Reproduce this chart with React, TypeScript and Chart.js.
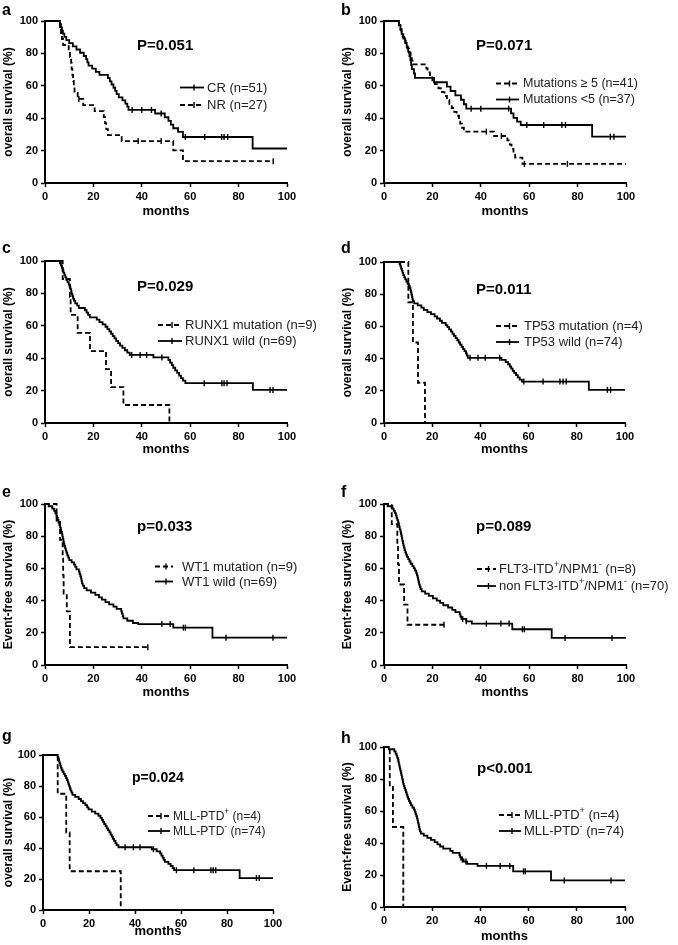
import React, { useEffect, useRef } from "react";
import { Chart, registerables } from "chart.js";
Chart.register(...registerables);

const FONT = '"Liberation Sans", Arial, Helvetica, sans-serif';

// ---------- DATA (months, survival %) ----------
// a
const aCrT = [0, 6.2, 6.6, 7, 7.4, 8, 8.8, 10, 11.5, 13, 14.5, 16, 17, 17.5, 18, 19.5, 21, 22.5, 26, 26.8, 27.5, 28.3, 29, 29.6, 30.5, 32, 33.2, 34, 34.5, 45.5, 49.5, 51, 52, 53, 55, 57, 85.8, 100];
const aCrS = [100, 98, 96.1, 94.1, 92.2, 90.2, 88.2, 86.3, 84.3, 82.4, 80.4, 78.4, 76.5, 74.5, 72.5, 70.6, 68.6, 66.7, 64.7, 62.7, 60.8, 58.8, 56.9, 54.9, 52.9, 51, 49, 47.1, 45.1, 42.9, 40.6, 38.3, 36, 33.8, 31.5, 28.4, 21.3, 21.3];
const aCrC = [36, 40, 44, 48, 58, 66, 73, 74, 75.5];
const aNrT = [0, 6.2, 6.6, 7, 7.5, 9.8, 10.3, 10.8, 11, 11.3, 11.6, 11.9, 12.2, 13.5, 15.8, 20.5, 24.3, 24.8, 25.3, 26, 31.7, 53, 57, 94.3];
const aNrS = [100, 96.3, 92.6, 88.9, 85.2, 81.5, 77.8, 74.1, 70.4, 66.7, 63, 59.3, 55.6, 51.9, 48.1, 44.4, 40.7, 37, 33.3, 29.6, 25.9, 20.2, 13.5, 13.5];
const aNrC = [14, 38.5, 48, 94.3];
// b
const bHiT = [0, 6.2, 6.7, 7.2, 7.7, 8.3, 9, 9.7, 10.3, 11, 11.5, 12.2, 17.5, 18, 19, 20, 21, 22.5, 24, 25, 26, 27, 28, 29, 30, 31, 31.5, 32.3, 33, 45.5, 51, 52, 52.7, 53.5, 54.2, 57.2, 100];
const bHiS = [100, 97.6, 95.1, 92.7, 90.2, 87.8, 85.4, 82.9, 80.5, 78, 75.6, 73.2, 70.7, 68.3, 65.9, 63.4, 61, 58.5, 56.1, 53.7, 51.2, 48.8, 46.3, 43.9, 41.5, 39, 36.6, 34.1, 31.7, 29, 26.3, 23.7, 21.1, 18.4, 15.7, 11.8, 11.8];
const bHiC = [42.3, 48.5, 58, 75.8];
const bLoT = [0, 6.2, 6.8, 7.3, 8, 8.7, 9.4, 10, 10.5, 10.9, 11.2, 11.5, 12.4, 12.8, 20.7, 26, 27.5, 29.5, 31.8, 33, 34, 52.5, 53.5, 55, 56.5, 86, 100];
const bLoS = [100, 97.3, 94.6, 91.9, 89.2, 86.5, 83.8, 81.1, 78.4, 75.7, 73, 70.3, 67.6, 64.9, 62.2, 59.5, 56.8, 54.1, 51.4, 48.6, 45.9, 43, 40.2, 37.9, 35.8, 28.6, 28.6];
const bLoC = [36, 40, 51.5, 59, 66, 73.5, 75, 93.5, 95];
// c
const cMutT = [0, 7.3, 10.3, 10.6, 13.5, 18.6, 25.2, 27.3, 32.4, 51.4];
const cMutS = [100, 88.9, 77.8, 66.7, 55.6, 44.4, 33.3, 22.2, 11.1, 0];
const cMutC: number[] = [];
const cWildT = [0, 6.2, 6.6, 7, 7.3, 7.6, 8, 8.4, 8.8, 9.3, 9.8, 10.2, 10.5, 10.8, 11, 11.3, 11.6, 12, 12.5, 13.3, 14, 16.5, 17.2, 17.8, 18.5, 21.4, 22.5, 23.8, 25, 25.8, 26.6, 27.3, 28, 28.7, 29.4, 30.2, 31, 32, 33, 34, 35, 44.8, 51, 51.7, 52.4, 53, 53.8, 54.6, 55.4, 56.2, 57, 58, 85.9, 100];
const cWildS = [100, 98.6, 97.1, 95.7, 94.2, 92.8, 91.3, 89.9, 88.4, 87, 85.5, 84.1, 82.6, 81.2, 79.7, 78.3, 76.8, 75.4, 73.9, 72.5, 71, 69.6, 68.1, 66.7, 65.2, 63.8, 62.3, 60.9, 59.4, 58, 56.5, 55.1, 53.6, 52.2, 50.7, 49.3, 47.8, 46.4, 44.9, 43.5, 42, 40.5, 38.9, 37.3, 35.7, 34.1, 32.5, 30.9, 29.3, 27.7, 26.1, 24.6, 20.4, 20.4];
const cWildC = [35.8, 39.3, 42, 48.3, 65.8, 73.1, 74, 75.2, 93, 94.2];
// d
const dMutT = [0, 10.1, 12, 14.1, 17];
const dMutS = [100, 75, 50, 25, 0];
const dMutC: number[] = [];
const dWildT = [0, 6.5, 6.8, 7.1, 7.4, 7.7, 8, 8.4, 8.8, 9.3, 9.8, 10.3, 10.7, 11, 11.2, 11.4, 11.6, 11.8, 12, 12.5, 14, 15.5, 16.5, 18, 19.5, 21, 22, 23.2, 24, 25.6, 26.3, 27, 27.8, 28.4, 29, 29.7, 30.4, 31, 31.6, 32.2, 32.8, 33.4, 34, 34.4, 34.8, 48.7, 50.5, 51.5, 52.2, 52.8, 53.4, 54, 54.8, 55.5, 56.3, 57.2, 85, 100];
const dWildS = [100, 98.6, 97.3, 95.9, 94.6, 93.2, 91.9, 90.5, 89.2, 87.8, 86.5, 85.1, 83.8, 82.4, 81.1, 79.7, 78.4, 77, 75.7, 74.3, 73, 71.6, 70.3, 68.9, 67.6, 66.2, 64.9, 63.5, 62.2, 60.8, 59.5, 58.1, 56.8, 55.4, 54.1, 52.7, 51.4, 50, 48.6, 47.3, 45.9, 44.6, 43.2, 41.9, 40.5, 39.2, 37.8, 36.5, 35.1, 33.8, 32.4, 31.1, 29.7, 28.4, 27, 25.7, 20.6, 20.6];
const dWildC = [35.7, 39, 42, 48, 58, 66, 73, 74.3, 75.6, 92.7, 94];
// e
const eMutT = [0, 4.8, 6.2, 7.3, 7.5, 7.7, 9, 10.3, 42.5];
const eMutS = [100, 88.9, 77.8, 66.7, 55.6, 44.4, 33.3, 11.1, 11.1];
const eMutC = [42.5];
const eWildT = [0, 1.5, 3, 3.8, 4.3, 4.7, 5, 5.3, 5.6, 5.9, 6.2, 6.5, 6.7, 7, 7.2, 7.4, 7.6, 7.8, 8, 8.3, 8.6, 8.9, 9.2, 9.6, 10, 11, 12, 12.5, 13, 14, 14.3, 14.6, 14.9, 15.1, 15.3, 15.6, 16.2, 17.2, 19, 20.8, 22.3, 23.5, 25, 26.5, 28.3, 29.6, 31.5, 31.8, 32.1, 32.4, 34, 36.3, 38.5, 53, 69.2, 100];
const eWildS = [100, 98.6, 97.1, 95.7, 94.2, 92.8, 91.3, 89.9, 88.4, 87, 85.5, 84.1, 82.6, 81.2, 79.7, 78.3, 76.8, 75.4, 73.9, 72.5, 71, 69.6, 68.1, 66.7, 65.2, 63.8, 62.3, 60.9, 59.4, 58, 56.5, 55.1, 53.6, 52.2, 50.7, 49.3, 47.8, 46.4, 44.9, 43.5, 42, 40.6, 39.1, 37.7, 36.2, 34.8, 33.3, 31.9, 30.4, 29, 27.5, 26.1, 25.4, 23.2, 17, 17];
const eWildC = [48.3, 51.7, 57.2, 58, 74.8, 94.2];
// f
const fPosT = [0, 3.2, 5.5, 5.8, 6.2, 8.3, 9.7, 24.8];
const fPosS = [100, 87.5, 75, 62.5, 50, 37.5, 25, 25];
const fPosC = [24.8];
const fNegT = [0, 1.5, 3.5, 4, 4.5, 4.9, 5.2, 5.5, 5.8, 6.1, 6.3, 6.5, 6.8, 7, 7.2, 7.4, 7.6, 7.8, 8, 8.2, 8.5, 8.8, 9.1, 9.5, 10, 10.5, 11, 11.7, 12.3, 12.8, 13.3, 13.6, 13.9, 14.1, 14.3, 14.5, 14.8, 15.1, 15.6, 17, 18.5, 20.2, 21.8, 23.2, 24.5, 26.5, 28.2, 29.5, 31.3, 31.6, 32, 34, 36.3, 53, 69.3, 100];
const fNegS = [100, 98.6, 97.1, 95.7, 94.3, 92.9, 91.4, 90, 88.6, 87.1, 85.7, 84.3, 82.9, 81.4, 80, 78.6, 77.1, 75.7, 74.3, 72.9, 71.4, 70, 68.6, 67.1, 65.7, 64.3, 62.9, 61.4, 60, 58.6, 57.1, 55.7, 54.3, 52.9, 51.4, 50, 48.6, 47.1, 45.7, 44.3, 42.9, 41.4, 40, 38.6, 37.1, 35.7, 34.3, 32.9, 31.4, 30, 28.6, 27.1, 25.7, 22.2, 16.8, 16.8];
const fNegC = [32.5, 34, 42.3, 48.3, 51.7, 57.2, 58, 74.8, 94.2];
// g
const gPosT = [0, 6.4, 10.1, 11.6, 33.8];
const gPosS = [100, 75, 50, 25, 0];
const gPosC: number[] = [];
const gNegT = [0, 6.4, 6.7, 7, 7.2, 7.5, 7.8, 8.1, 8.5, 9, 9.5, 10, 10.4, 10.8, 11.1, 11.4, 11.7, 12, 12.4, 12.8, 14, 15.5, 16.5, 17.4, 18.4, 19.2, 19.8, 21.2, 22.7, 24.1, 25, 25.6, 26.1, 26.6, 27.2, 27.7, 28.3, 28.9, 29.4, 29.9, 30.4, 30.9, 31.5, 32, 32.8, 47.3, 49.4, 50.9, 51.5, 52, 52.5, 53, 54.5, 55.5, 56.4, 57, 85.5, 100];
const gNegS = [100, 98.6, 97.3, 95.9, 94.6, 93.2, 91.9, 90.5, 89.2, 87.8, 86.5, 85.1, 83.8, 82.4, 81.1, 79.7, 78.4, 77, 75.7, 74.3, 73, 71.6, 70.3, 68.9, 67.6, 66.2, 64.9, 63.5, 62.2, 60.8, 59.5, 58.1, 56.8, 55.4, 54.1, 52.7, 51.4, 50, 48.6, 47.3, 45.9, 44.6, 43.2, 41.9, 40.5, 39.2, 37.8, 36.5, 35.1, 33.8, 32.4, 31.1, 29.7, 28.4, 27, 25.7, 20.6, 20.6];
const gNegC = [35.7, 39.3, 42.2, 48, 58, 65.6, 73, 74, 75.1, 92.8, 94];
// h
const hPosT = [0, 2.4, 3.7, 8];
const hPosS = [100, 75, 50, 0];
const hPosC: number[] = [];
const hNegT = [0, 2, 4.3, 4.8, 5.2, 5.5, 5.8, 6, 6.2, 6.4, 6.6, 6.8, 7, 7.2, 7.4, 7.6, 7.8, 8, 8.2, 8.5, 8.8, 9.1, 9.4, 9.7, 10, 10.4, 10.8, 11.2, 11.8, 12.4, 12.8, 13.1, 13.4, 13.7, 13.9, 14.1, 14.3, 14.5, 14.7, 14.9, 15.3, 16.5, 18, 19.5, 21, 22.2, 23.3, 24.6, 27.5, 28.5, 31.3, 31.6, 32, 33, 34.5, 38.8, 53.6, 69.3, 100];
const hNegS = [100, 98.6, 97.3, 95.9, 94.6, 93.2, 91.9, 90.5, 89.2, 87.8, 86.5, 85.1, 83.8, 82.4, 81.1, 79.7, 78.4, 77, 75.7, 74.3, 73, 71.6, 70.3, 68.9, 67.6, 66.2, 64.9, 63.5, 62.2, 60.8, 59.5, 58.1, 56.8, 55.4, 54.1, 52.7, 51.4, 50, 48.6, 47.3, 45.9, 44.6, 43.2, 41.9, 40.5, 39.2, 37.8, 36.5, 35.1, 33.8, 32.4, 31.1, 29.7, 28.4, 27, 25.7, 22.3, 16.6, 16.6];
const hNegC = [32.5, 34, 42.5, 48.2, 52.2, 57.9, 58.6, 74.8, 94.2];

// axis ticks
const tickValues = [0, 20, 40, 60, 80, 100];
const xTitle = "months";
const osTitle = "overall survival (%)";
const efsTitle = "Event-free survival (%)";

// ---------- PANELS (layout / style) ----------
type Series = { t: number[]; s: number[]; c: number[]; dashed: boolean; label: string };
type Panel = {
  letter: string; pText: string; yTitle: string; series: Series[];
  left: number; top: number; w: number; h: number;
  L: number; R: number; T: number; B: number;
  lx: number; ly: number; px: number; py: number; pSize: number;
  legX0: number; legX1: number; legTx: number; legY: number; legRow: number; legSize: number;
  xTitleY: number;
};

const PANELS: Panel[] = [
  { letter: "a", pText: "P=0.051", yTitle: osTitle,
    series: [
      { t: aCrT, s: aCrS, c: aCrC, dashed: false, label: "CR (n=51)" },
      { t: aNrT, s: aNrS, c: aNrC, dashed: true, label: "NR (n=27)" }],
    left: 0, top: 0, w: 339, h: 236, L: 45, R: 287, T: 21, B: 183,
    lx: 2, ly: 15, px: 137, py: 50, pSize: 15,
    legX0: 180, legX1: 204, legTx: 207, legY: 87.5, legRow: 17.5, legSize: 13, xTitleY: 211.5 },
  { letter: "b", pText: "P=0.071", yTitle: osTitle,
    series: [
      { t: bHiT, s: bHiS, c: bHiC, dashed: true, label: "Mutations \u2265 5 (n=41)" },
      { t: bLoT, s: bLoS, c: bLoC, dashed: false, label: "Mutations <5 (n=37)" }],
    left: 339, top: 0, w: 339, h: 236, L: 45, R: 287, T: 21, B: 183,
    lx: 2, ly: 15, px: 137, py: 50, pSize: 15,
    legX0: 157, legX1: 180, legTx: 184, legY: 83.5, legRow: 16, legSize: 12.5, xTitleY: 211.5 },
  { letter: "c", pText: "P=0.029", yTitle: osTitle,
    series: [
      { t: cMutT, s: cMutS, c: cMutC, dashed: true, label: "RUNX1 mutation (n=9)" },
      { t: cWildT, s: cWildS, c: cWildC, dashed: false, label: "RUNX1 wild (n=69)" }],
    left: 0, top: 236, w: 339, h: 236, L: 45, R: 287, T: 25, B: 187,
    lx: 2, ly: 17, px: 137, py: 55, pSize: 15,
    legX0: 158, legX1: 182, legTx: 185, legY: 89, legRow: 16, legSize: 13, xTitleY: 213 },
  { letter: "d", pText: "P=0.011", yTitle: osTitle,
    series: [
      { t: dMutT, s: dMutS, c: dMutC, dashed: true, label: "TP53 mutation (n=4)" },
      { t: dWildT, s: dWildS, c: dWildC, dashed: false, label: "TP53 wild (n=74)" }],
    left: 339, top: 236, w: 339, h: 236, L: 45, R: 286, T: 26, B: 187,
    lx: 2, ly: 17, px: 137, py: 58, pSize: 15,
    legX0: 157, legX1: 180, legTx: 185, legY: 90, legRow: 16, legSize: 13, xTitleY: 213 },
  { letter: "e", pText: "p=0.033", yTitle: efsTitle,
    series: [
      { t: eMutT, s: eMutS, c: eMutC, dashed: true, label: "WT1 mutation (n=9)" },
      { t: eWildT, s: eWildS, c: eWildC, dashed: false, label: "WT1 wild (n=69)" }],
    left: 0, top: 472, w: 339, h: 236, L: 45, R: 287, T: 32, B: 193,
    lx: 2, ly: 25, px: 137, py: 59, pSize: 15,
    legX0: 155, legX1: 173, legTx: 182, legY: 94.5, legRow: 15, legSize: 13, xTitleY: 220 },
  { letter: "f", pText: "p=0.089", yTitle: efsTitle,
    series: [
      { t: fPosT, s: fPosS, c: fPosC, dashed: true, label: "FLT3-ITD^+/NPM1^- (n=8)" },
      { t: fNegT, s: fNegS, c: fNegC, dashed: false, label: "non FLT3-ITD^+/NPM1^- (n=70)" }],
    left: 339, top: 472, w: 339, h: 236, L: 45, R: 287, T: 32, B: 193,
    lx: 2, ly: 25, px: 137, py: 59, pSize: 15,
    legX0: 138, legX1: 157, legTx: 160, legY: 97, legRow: 17, legSize: 13, xTitleY: 220 },
  { letter: "g", pText: "p=0.024", yTitle: osTitle,
    series: [
      { t: gPosT, s: gPosS, c: gPosC, dashed: true, label: "MLL-PTD^+ (n=4)" },
      { t: gNegT, s: gNegS, c: gNegC, dashed: false, label: "MLL-PTD^- (n=74)" }],
    left: 0, top: 708, w: 339, h: 237, L: 43, R: 273, T: 47, B: 202,
    lx: 2, ly: 33, px: 132, py: 74, pSize: 14,
    legX0: 148, legX1: 170, legTx: 173, legY: 108, legRow: 15, legSize: 12, xTitleY: 223 },
  { letter: "h", pText: "p<0.001", yTitle: efsTitle,
    series: [
      { t: hPosT, s: hPosS, c: hPosC, dashed: true, label: "MLL-PTD^+ (n=4)" },
      { t: hNegT, s: hNegS, c: hNegC, dashed: false, label: "MLL-PTD^- (n=74)" }],
    left: 339, top: 708, w: 339, h: 237, L: 45, R: 286, T: 39, B: 199,
    lx: 2, ly: 35, px: 138, py: 65, pSize: 15,
    legX0: 160, legX1: 182, legTx: 185, legY: 107, legRow: 16, legSize: 13, xTitleY: 228 },
];

const DASH = [5, 3];

function survAt(t: number[], s: number[], x: number) {
  let v = s[0];
  for (let i = 0; i < t.length; i++) if (t[i] <= x) v = s[i];
  return v;
}

const decoPlugin = {
  id: "kmDeco",
  afterDraw(chart: any, _args: any, o: any) {
    const p: Panel = o.panel;
    if (!p) return;
    const ctx = chart.ctx as CanvasRenderingContext2D;
    ctx.save();
    ctx.fillStyle = "#000";
    ctx.textAlign = "left";
    ctx.textBaseline = "alphabetic";
    ctx.font = `bold 16px ${FONT}`;
    ctx.fillText(p.letter, p.lx, p.ly);
    ctx.font = `bold ${p.pSize}px ${FONT}`;
    ctx.fillText(p.pText, p.px, p.py);
    p.series.forEach((se, i) => {
      const y = p.legY + i * p.legRow;
      ctx.strokeStyle = "#000";
      ctx.lineWidth = 1.8;
      ctx.setLineDash(se.dashed ? DASH : []);
      ctx.beginPath();
      ctx.moveTo(p.legX0, y);
      ctx.lineTo(p.legX1, y);
      ctx.stroke();
      ctx.setLineDash([]);
      ctx.lineWidth = 1.4;
      const mx = (p.legX0 + p.legX1) / 2 + 2;
      ctx.beginPath();
      ctx.moveTo(mx, y - 3);
      ctx.lineTo(mx, y + 3);
      ctx.stroke();
      // text with superscripts
      ctx.fillStyle = "#222";
      let x = p.legTx;
      const parts = se.label.split(/(\^.)/);
      parts.forEach((part) => {
        if (!part) return;
        if (part.startsWith("^")) {
          const sz = p.legSize * 0.7;
          ctx.font = `${sz}px ${FONT}`;
          ctx.textBaseline = "middle";
          ctx.fillText(part.slice(1), x, y - p.legSize * 0.35);
          x += ctx.measureText(part.slice(1)).width;
        } else {
          ctx.font = `${p.legSize}px ${FONT}`;
          ctx.textBaseline = "middle";
          ctx.fillText(part, x, y + 0.5);
          x += ctx.measureText(part).width;
        }
      });
    });
    ctx.restore();
  },
};

function KMPanel({ p }: { p: Panel }) {
  const ref = useRef<HTMLCanvasElement>(null);
  useEffect(() => {
    const canvas = ref.current!;
    const datasets: any[] = [];
    p.series.forEach((se) => {
      datasets.push({
        data: se.t.map((x, i) => ({ x, y: se.s[i] })),
        stepped: true,
        borderColor: "#000",
        borderWidth: 1.8,
        borderDash: se.dashed ? DASH : [],
        pointRadius: 0,
        fill: false,
        clip: false,
      });
      datasets.push({
        data: se.c.map((x) => ({ x, y: survAt(se.t, se.s, x) })),
        showLine: false,
        pointStyle: "line",
        rotation: 90,
        pointRadius: 3,
        pointBorderWidth: 1.4,
        pointBorderColor: "#000",
        borderColor: "#000",
        clip: false,
      });
    });
    const tickFont = { family: FONT, size: 11, weight: "bold" as const };
    const chart = new Chart(canvas, {
      type: "line",
      data: { datasets },
      plugins: [decoPlugin],
      options: {
        animation: false,
        responsive: false,
        devicePixelRatio: 1,
        events: [],
        layout: { padding: { top: p.T, right: p.w - p.R, left: 0, bottom: 0 } },
        plugins: {
          legend: { display: false },
          tooltip: { enabled: false },
          kmDeco: { panel: p },
        } as any,
        scales: {
          x: {
            type: "linear",
            min: 0,
            max: 100,
            afterBuildTicks: (sc: any) => { sc.ticks = tickValues.map((v) => ({ value: v })); },
            afterFit: (sc: any) => { sc.height = p.h - p.B; },
            ticks: { color: "#000", font: tickFont, padding: 3, maxRotation: 0 },
            grid: { display: true, drawOnChartArea: false, drawTicks: true, tickLength: 4, tickWidth: 1.5, tickColor: "#000", color: "#000" },
            border: { display: true, color: "#000", width: 2 },
            title: {
              display: true, text: xTitle, color: "#000",
              font: { family: FONT, size: 13, weight: "bold" },
              padding: { top: 0, bottom: p.h - p.xTitleY - 7.8 },
            },
          },
          y: {
            type: "linear",
            min: 0,
            max: 100,
            afterBuildTicks: (sc: any) => { sc.ticks = tickValues.map((v) => ({ value: v })); },
            afterFit: (sc: any) => { sc.width = p.L; },
            ticks: { color: "#000", font: tickFont, padding: 3 },
            grid: { display: true, drawOnChartArea: false, drawTicks: true, tickLength: 4, tickWidth: 1.5, tickColor: "#000", color: "#000" },
            border: { display: true, color: "#000", width: 2 },
            title: {
              display: true, text: p.yTitle, color: "#000",
              font: { family: FONT, size: 12, weight: "bold" },
              padding: { top: 1.5, bottom: 0 },
            },
          },
        },
      } as any,
    });
    return () => chart.destroy();
  }, [p]);
  return (
    <canvas
      ref={ref}
      width={p.w}
      height={p.h}
      style={{ position: "absolute", left: p.left, top: p.top, width: p.w, height: p.h }}
    />
  );
}

export default function App() {
  useEffect(() => {
    document.body.style.margin = "0";
    document.body.style.background = "#fff";
  }, []);
  return (
    <div style={{ position: "absolute", left: 0, top: 0, width: 678, height: 945, background: "#fff" }}>
      {PANELS.map((p) => (
        <KMPanel key={p.letter} p={p} />
      ))}
    </div>
  );
}
